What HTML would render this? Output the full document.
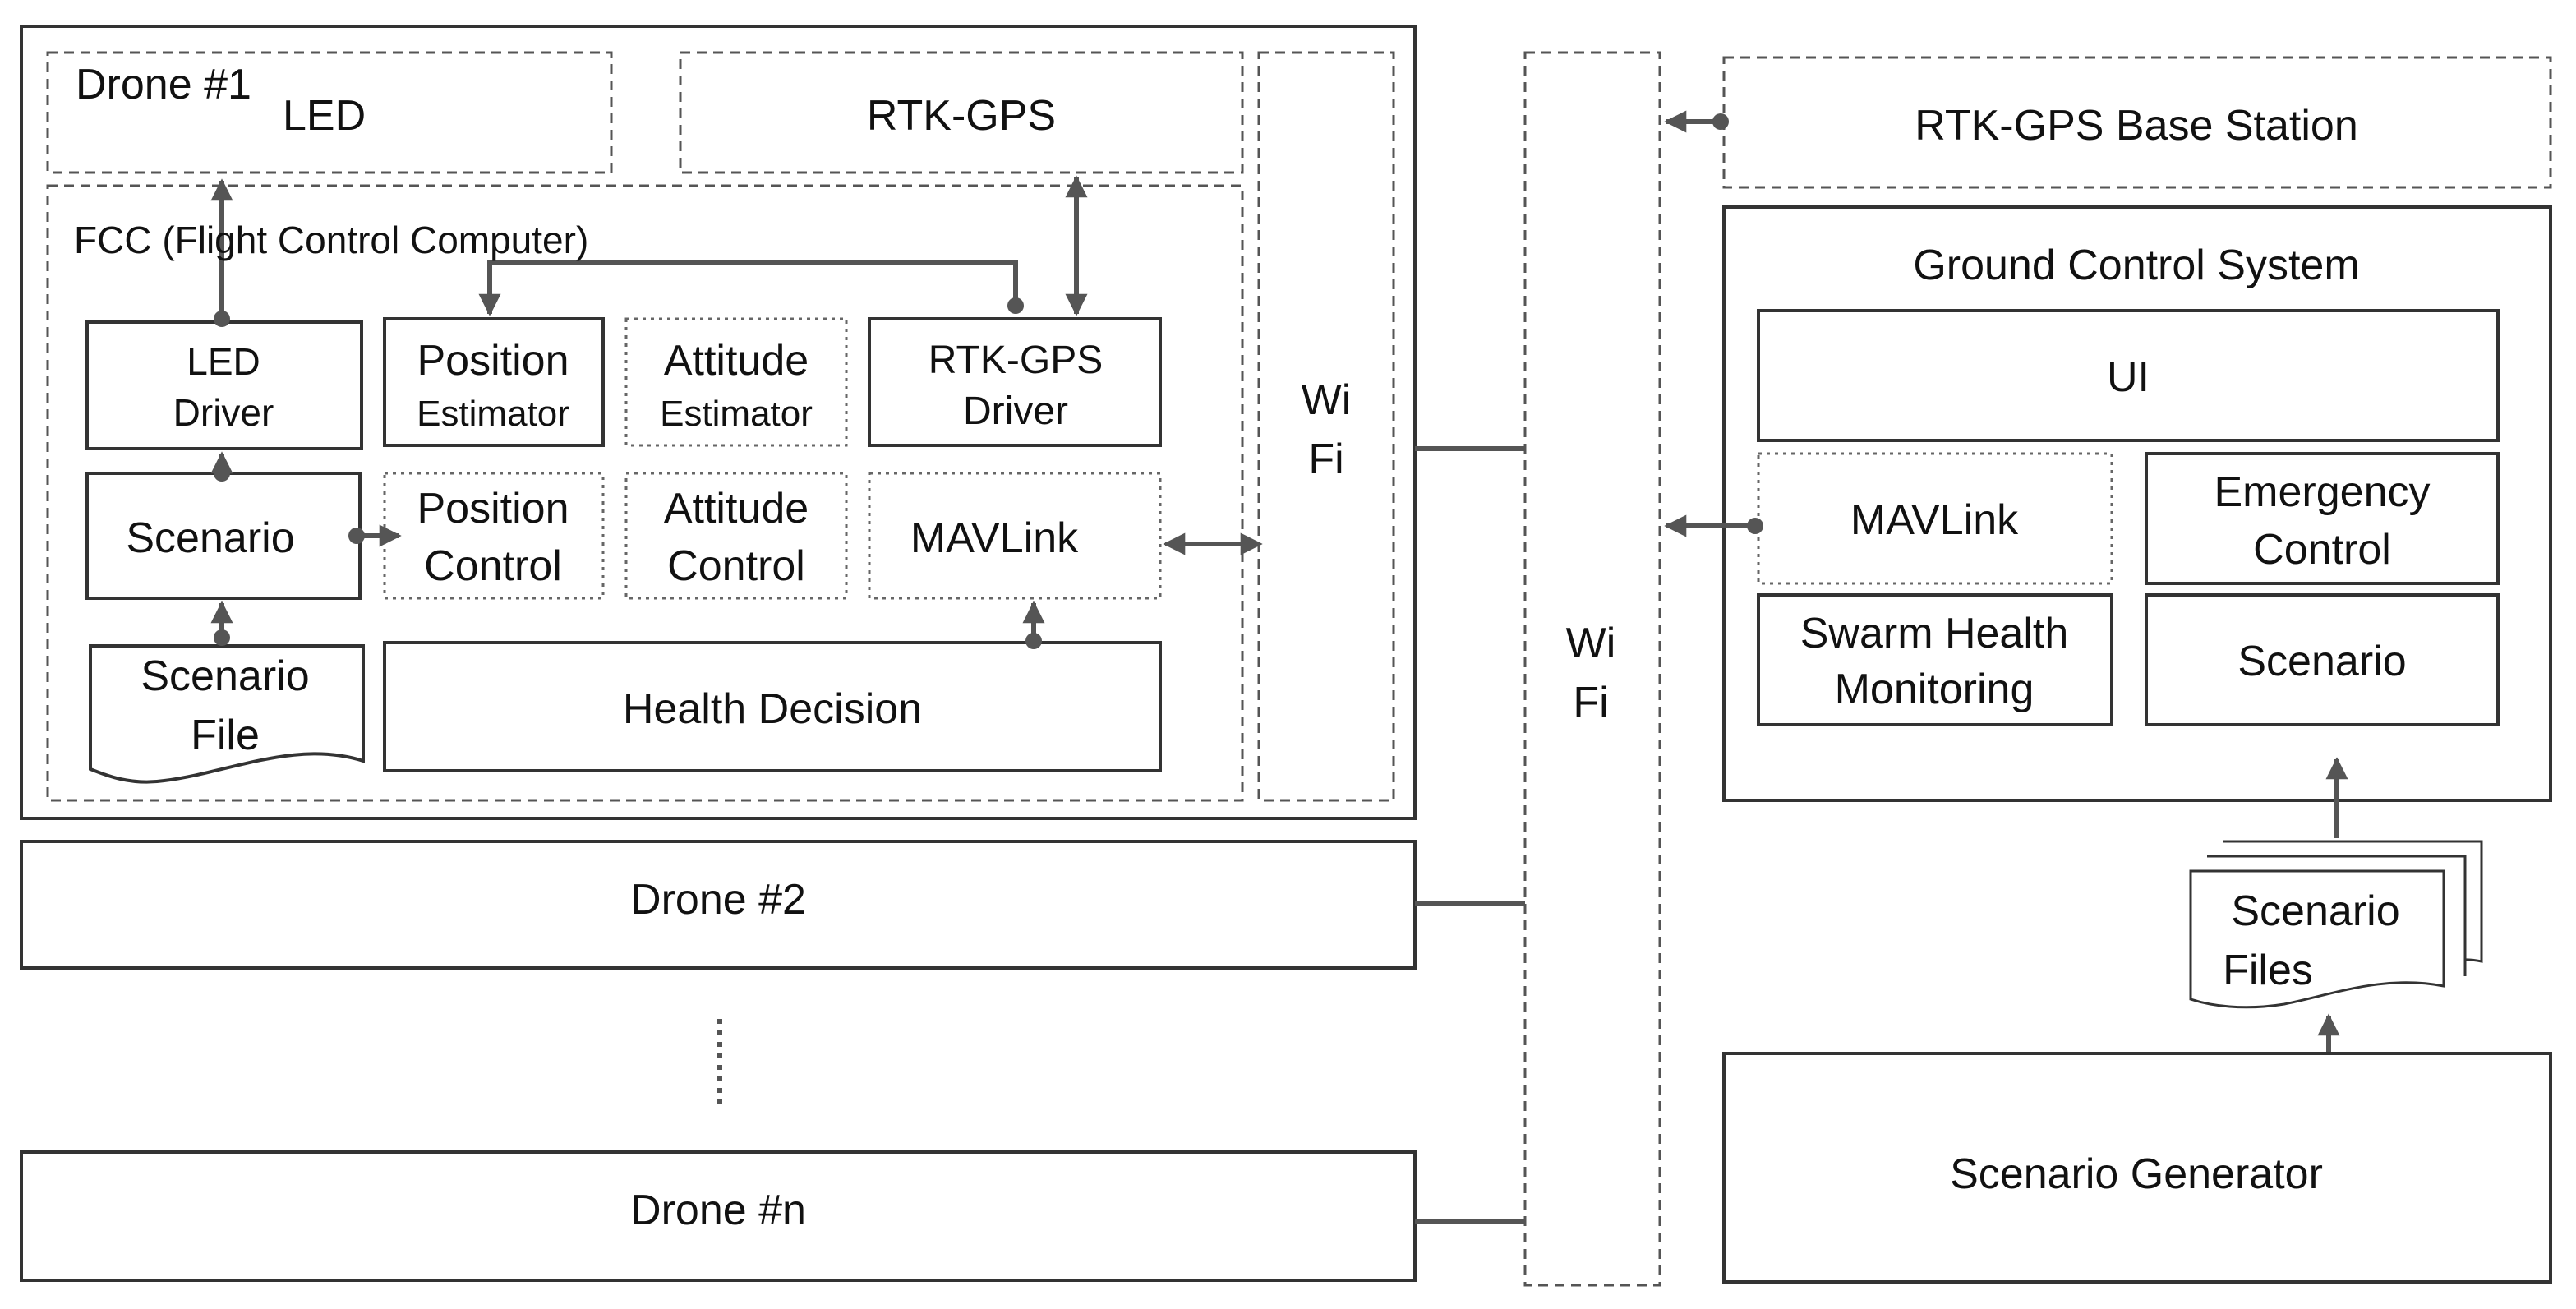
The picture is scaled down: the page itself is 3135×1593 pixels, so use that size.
<!DOCTYPE html>
<html><head><style>html,body{margin:0;padding:0;background:#fff}svg{display:block}</style></head><body>
<svg width="3135" height="1593" viewBox="0 0 1567.5 796.5" xmlns="http://www.w3.org/2000/svg" font-family="Liberation Sans, sans-serif" fill="none">
<defs>
<marker id="a" viewBox="0 0 10 10" refX="9" refY="5" markerWidth="4.5" markerHeight="4.5" orient="auto-start-reverse"><path d="M0,0L10,5L0,10z" fill="#555"/></marker>
</defs>
<g stroke="#333" stroke-width="1.5">
<rect x="13" y="16" width="848" height="482" stroke-width="2"/>
<g stroke-dasharray="6,4" stroke="#555">
<rect x="29" y="32" width="343" height="73"/>
<rect x="414" y="32" width="342" height="73"/>
<rect x="766" y="32" width="82" height="455"/>
<rect x="29" y="113" width="727" height="374"/>
<rect x="928" y="32" width="82" height="750"/>
<rect x="1049" y="35" width="503" height="79"/>
</g>
<rect x="53" y="196" width="167" height="77" stroke-width="2"/>
<rect x="234" y="194" width="133" height="77" stroke-width="2"/>
<rect x="529" y="194" width="177" height="77" stroke-width="2"/>
<rect x="53" y="288" width="166" height="76" stroke-width="2"/>
<rect x="234" y="391" width="472" height="78" stroke-width="2"/>
<g stroke-dasharray="2,3" stroke="#666">
<rect x="381" y="194" width="134" height="77"/>
<rect x="234" y="288" width="133" height="76"/>
<rect x="381" y="288" width="134" height="76"/>
<rect x="529" y="288" width="177" height="76"/>
<rect x="1070" y="276" width="215" height="79"/>
</g>
<path d="M55,393H221V463C180,450 140,470 100,475C80,478 65,472 55,468Z" stroke-width="2"/>
<rect x="13" y="512" width="848" height="77" stroke-width="2"/>
<rect x="13" y="701" width="848" height="78" stroke-width="2"/>
<rect x="1049" y="126" width="503" height="361" stroke-width="2"/>
<rect x="1070" y="189" width="450" height="79" stroke-width="2"/>
<rect x="1306" y="276" width="214" height="79" stroke-width="2"/>
<rect x="1070" y="362" width="215" height="79" stroke-width="2"/>
<rect x="1306" y="362" width="214" height="79" stroke-width="2"/>
<rect x="1049" y="641" width="503" height="139" stroke-width="2"/>
<path d="M1353,512H1510V585C1500,583 1493,584 1487,586" stroke-width="1.5"/>
<path d="M1343,521H1500V594" stroke-width="1.5" fill="#fff"/>
<path d="M1333,530H1487V600C1450,593 1420,605 1390,611C1365,615 1345,612 1333,608Z" stroke-width="1.5" fill="#fff"/>
</g>
<g stroke="#555" stroke-width="3">
<path d="M135,194V110" marker-end="url(#a)"/>
<path d="M135,288V276" marker-end="url(#a)"/>
<path d="M135,390V367" marker-end="url(#a)"/>
<path d="M217,326H243" marker-end="url(#a)"/>
<path d="M618,186V160H298V191" marker-end="url(#a)"/>
<path d="M655,108V191" marker-start="url(#a)" marker-end="url(#a)"/>
<path d="M709,331H767" marker-start="url(#a)" marker-end="url(#a)"/>
<path d="M629,390V367" marker-end="url(#a)"/>
<path d="M1047,74H1014" marker-end="url(#a)"/>
<path d="M1068,320H1014" marker-end="url(#a)"/>
<path d="M1422,510V462" marker-end="url(#a)"/>
<path d="M1417,640V618" marker-end="url(#a)"/>
<path d="M861,273H928M861,550H928M861,743H928"/>
<path d="M438,620V676" stroke-dasharray="3,4"/>
</g>
<g fill="#555">
<circle cx="135" cy="194" r="5"/><circle cx="135" cy="288" r="5"/><circle cx="135" cy="388" r="5"/>
<circle cx="217" cy="326" r="5"/><circle cx="618" cy="186" r="5"/><circle cx="629" cy="390" r="5"/>
<circle cx="1047" cy="74" r="5"/><circle cx="1068" cy="320" r="5"/>
</g>
<g fill="#111" font-size="26" text-anchor="middle">
<text x="46" y="60" text-anchor="start">Drone #1</text>
<text x="172" y="79" text-anchor="start">LED</text>
<text x="585" y="79">RTK-GPS</text>
<text x="45" y="154" text-anchor="start" font-size="23">FCC (Flight Control Computer)</text>
<text x="807" y="252">Wi</text><text x="807" y="288">Fi</text>
<text x="136" y="228" font-size="23">LED</text><text x="136" y="259" font-size="23">Driver</text>
<text x="300" y="228">Position</text><text x="300" y="259" font-size="22">Estimator</text>
<text x="448" y="228">Attitude</text><text x="448" y="259" font-size="22">Estimator</text>
<text x="618" y="227" font-size="24">RTK-GPS</text><text x="618" y="258" font-size="24">Driver</text>
<text x="128" y="336">Scenario</text>
<text x="300" y="318">Position</text><text x="300" y="353">Control</text>
<text x="448" y="318">Attitude</text><text x="448" y="353">Control</text>
<text x="605" y="336">MAVLink</text>
<text x="137" y="420">Scenario</text><text x="137" y="456">File</text>
<text x="470" y="440">Health Decision</text>
<text x="437" y="556">Drone #2</text>
<text x="437" y="745">Drone #n</text>
<text x="968" y="400">Wi</text><text x="968" y="436">Fi</text>
<text x="1300" y="85">RTK-GPS Base Station</text>
<text x="1300" y="170">Ground Control System</text>
<text x="1295" y="238">UI</text>
<text x="1177" y="325">MAVLink</text>
<text x="1413" y="308">Emergency</text><text x="1413" y="343">Control</text>
<text x="1177" y="394">Swarm Health</text><text x="1177" y="428">Monitoring</text>
<text x="1413" y="411">Scenario</text>
<text x="1409" y="563">Scenario</text><text x="1380" y="599">Files</text>
<text x="1300" y="723">Scenario Generator</text>
</g>
</svg>
</body></html>
